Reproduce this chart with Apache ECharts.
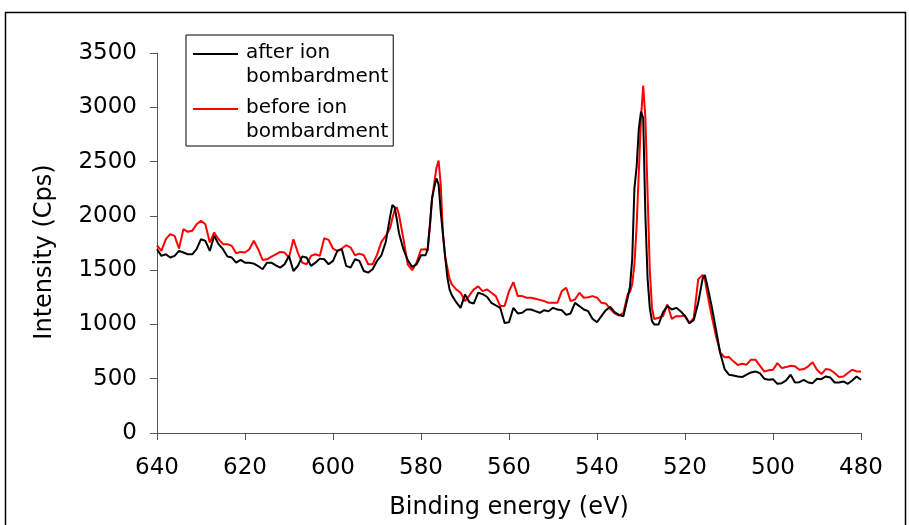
<!DOCTYPE html>
<html><head><meta charset="utf-8">
<script src="https://cdn.jsdelivr.net/npm/echarts@6/dist/echarts.min.js"></script>
<style>html,body{margin:0;padding:0;background:#fff}#c{width:909px;height:525px}</style>
</head><body><div id="c"></div>
<script>
const seriesNames = ['after ion bombardment', 'before ion bombardment'];
const xRange = [480, 640, 20];
const yRange = [0, 3500, 500];

const afterIon = [
[640,1693],[639,1631],[638,1646],[637,1616],[636,1631],[635,1677],[634,1662],[633,1646],[632,1646],[631,1693],
[630,1785],[629,1770],[628,1677],[627,1816],[626,1739],[625,1693],[624,1625],[623,1616],[622,1569],[621,1594],
[620,1569],[619,1569],[618,1560],[617,1538],[616,1508],[615,1569],[614,1569],[613,1544],[612,1523],[611,1554],
[610,1631],[609,1492],[608,1538],[607,1625],[606,1616],[605,1539],[604,1569],[603,1606],[602,1600],[601,1554],
[600,1585],[599,1677],[598,1693],[597,1539],[596,1523],[595,1600],[594,1585],[593,1492],[592,1477],[591,1508],
[590,1585],[589,1637],[588,1760],[587,2000],[586.5,2100],[586,2080],[585.5,1970],[585,1840],[584,1693],[583,1590],
[582,1530],[581,1554],[580,1637],[579,1637],[578.5,1690],[578,1900],[577.5,2160],[577,2260],[576.5,2345],[576,2290],
[575.5,2030],[575,1830],[574.5,1620],[574,1430],[573.5,1320],[573,1270],[572,1205],[571,1153],[570,1276],[569,1205],
[568,1193],[567,1292],[566,1279],[565,1255],[564,1199],[563,1175],[562,1153],[561,1014],[560,1020],[559,1153],
[558,1101],[557,1107],[556,1138],[555,1138],[554,1122],[553,1107],[552,1131],[551,1122],[550,1153],[549,1138],
[548,1131],[547,1088],[546,1101],[545,1199],[544,1169],[543,1138],[542,1122],[541,1051],[540,1020],[539,1076],
[538,1131],[537,1162],[536,1113],[535,1088],[534,1076],[533,1250],[532.5,1350],[532,1600],[531.5,2250],[531,2450],
[530.5,2800],[530,2960],[529.5,2900],[529,2000],[528.5,1420],[528,1150],[527.5,1030],[527,1000],[526,999],[525,1113],
[524,1169],[523,1138],[522,1153],[521,1122],[520,1076],[519,1008],[518,1040],[517,1200],[516,1420],[515.5,1455],
[515,1370],[514,1180],[513,960],[512,737],[511,589],[510,537],[509,530],[508,521],[507,515],[506,537],
[505,558],[504,567],[503,552],[502,500],[501,490],[500,496],[499,453],[498,459],[497,484],[496,537],
[495,465],[494,468],[493,490],[492,465],[491,459],[490,500],[489,496],[488,521],[487,512],[486,465],
[485,465],[484,475],[483,453],[482,484],[481,521],[480,490]
];

const beforeIon = [
[640,1729],[639,1677],[638,1785],[637,1831],[636,1816],[635,1699],[634,1877],[633,1853],[632,1862],[631,1923],
[630,1954],[629,1923],[628,1754],[627,1847],[626,1785],[625,1739],[624,1739],[623,1723],[622,1656],[621,1668],
[620,1662],[619,1693],[618,1770],[617,1693],[616,1594],[615,1600],[614,1625],[613,1646],[612,1668],[611,1662],
[610,1616],[609,1785],[608,1662],[607,1569],[606,1554],[605,1631],[604,1646],[603,1631],[602,1794],[601,1779],
[600,1699],[599,1677],[598,1699],[597,1730],[596,1708],[595,1637],[594,1652],[593,1637],[592,1554],[591,1554],
[590,1640],[589,1760],[588,1815],[587,1890],[586.5,1980],[586,2050],[585.5,2080],[585,2010],[584,1790],[583,1550],
[582,1500],[581,1570],[580,1690],[579,1693],[578.5,1680],[578,1900],[577.5,2150],[577,2300],[576.5,2440],[576,2510],
[575.5,2280],[575,1820],[574.5,1620],[574,1520],[573.5,1420],[573,1369],[572,1323],[571,1292],[570,1215],[569,1268],
[568,1323],[567,1350],[566,1307],[565,1323],[564,1292],[563,1261],[562,1169],[561,1169],[560,1307],[559,1390],
[558,1261],[557,1261],[556,1246],[555,1246],[554,1236],[553,1226],[552,1215],[551,1199],[550,1199],[549,1199],
[548,1307],[547,1338],[546,1215],[545,1230],[544,1292],[543,1246],[542,1250],[541,1261],[540,1246],[539,1199],
[538,1193],[537,1144],[536,1101],[535,1082],[534,1107],[533,1280],[532.5,1300],[532,1370],[531.5,1550],[531,1900],
[530.5,2400],[530,2900],[529.5,3200],[529,2900],[528.5,2200],[528,1500],[527.5,1150],[527,1050],[526,1061],[525,1076],
[524,1184],[523,1051],[522,1076],[521,1076],[520,1082],[519,1014],[518,1060],[517,1415],[516,1455],[515.5,1420],
[515,1300],[514,1090],[513,900],[512,743],[511,697],[510,700],[509,660],[508,626],[507,638],[506,629],
[505,675],[504,675],[503,620],[502,567],[501,577],[500,583],[499,644],[498,598],[497,607],[496,620],
[495,614],[494,583],[493,589],[492,614],[491,651],[490,583],[489,543],[488,589],[487,583],[486,552],
[485,515],[484,521],[483,552],[482,583],[481,567],[480,567]
];

const FONT = '"DejaVu Sans", Verdana, sans-serif';
const chart = echarts.init(document.getElementById('c'), null, {renderer: 'canvas'});
const axisColor = '#555';
chart.setOption({
  animation: false,
  backgroundColor: '#fff',
  textStyle: {fontFamily: FONT},
  grid: {left: 157, right: 48, top: 53, bottom: 92, containLabel: false},
  graphic: [{
    type: 'rect', silent: true, z: 0,
    shape: {x: 5.5, y: 12.5, width: 900, height: 540},
    style: {fill: 'none', stroke: '#000', lineWidth: 1.5}
  }],
  legend: {
    orient: 'vertical', left: 186, top: 35,
    padding: [6, 5, 2, 7], itemGap: 7,
    itemWidth: 45, itemHeight: 24,
    borderColor: '#000', borderWidth: 1, backgroundColor: '#fff',
    icon: 'path://M0,0 L45,0 L45,2 L0,2 Z M0,24 L0.01,24',
    itemStyle: {borderWidth: 0},
    textStyle: {fontFamily: FONT, fontSize: 20, lineHeight: 24, color: '#000', padding: [0,0,0,3]},
    formatter: n => n.replace(' bombardment', '\nbombardment'),
    data: seriesNames
  },
  xAxis: {
    type: 'value', inverse: true, min: xRange[0], max: xRange[1], interval: xRange[2],
    name: 'Binding energy (eV)', nameLocation: 'middle', nameGap: 63,
    nameTextStyle: {fontFamily: FONT, fontSize: 24, color: '#000'},
    axisLine: {show: true, lineStyle: {color: axisColor, width: 1}},
    axisTick: {show: true, length: 7, lineStyle: {color: axisColor}},
    axisLabel: {fontFamily: FONT, fontSize: 23, color: '#000', margin: 24, formatter: v => String(v)},
    splitLine: {show: false}
  },
  yAxis: {
    type: 'value', min: yRange[0], max: yRange[1], interval: yRange[2],
    name: 'Intensity (Cps)', nameLocation: 'middle', nameGap: 100, nameRotate: 90,
    nameTextStyle: {fontFamily: FONT, fontSize: 24, color: '#000', padding: [0, 18, 0, 0]},
    axisLine: {show: true, lineStyle: {color: axisColor, width: 1}},
    axisTick: {show: true, length: 7, lineStyle: {color: axisColor}},
    axisLabel: {fontFamily: FONT, fontSize: 23, color: '#000', margin: 20, formatter: v => String(v)},
    splitLine: {show: false}
  },
  series: [
    {name: seriesNames[0], type: 'line', data: afterIon, showSymbol: false, symbol: 'none',
     lineStyle: {color: '#000', width: 2}, itemStyle: {color: '#000'}, z: 3},
    {name: seriesNames[1], type: 'line', data: beforeIon, showSymbol: false, symbol: 'none',
     lineStyle: {color: '#ff0000', width: 2}, itemStyle: {color: '#ff0000'}, z: 2}
  ]
});
</script></body></html>
